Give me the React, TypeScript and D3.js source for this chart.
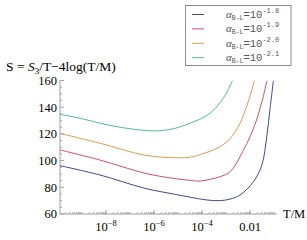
import React from "react";
import * as d3 from "d3";

const W = 307, H = 240;

// log10(T/M) samples and S values for each alpha
const blueX = [-9.92, -8.25, -6.375, -5.2, -4.5, -3.8, -3.25, -2.83, -2.42, -1.86, -1.51, -1.30, -1.17, -1.03];
const blueY = [96.2, 89.2, 79.2, 75.0, 72.6, 70.5, 70.0, 71.2, 74.2, 84.2, 96.7, 119, 139, 160];
const redX = [-9.92, -8.25, -6.375, -5.2, -4.5, -4.08, -3.25, -2.83, -2.42, -1.86, -1.51, -1.30];
const redY = [108, 100.4, 90.5, 86.7, 85.2, 84.7, 88.0, 91.7, 103, 124, 144, 160];
const orangeX = [-9.92, -8.25, -6.375, -5.2, -4.5, -3.67, -3.25, -2.83, -2.42, -2.08, -1.82];
const orangeY = [120.4, 113, 104, 102.2, 102.6, 107, 110.5, 116.5, 128, 144, 160];
const cyanX = [-9.92, -9.08, -8.25, -7.42, -6.375, -5.75, -5.12, -4.5, -3.875, -3.46, -3.04, -2.73];
const cyanY = [134.7, 131.7, 128, 125, 122.6, 122.4, 124.2, 128, 133, 139, 149, 160];

const seriesNames = ["-1.8", "-1.9", "-2.0", "-2.1"];
const seriesColors = ["#3f4b88", "#cc5363", "#dc9b52", "#52b9a3"];
const seriesXs = [blueX, redX, orangeX, cyanX];
const seriesYs = [blueY, redY, orangeY, cyanY];

const yTicks = [60, 80, 100, 120, 140, 160];
const xMajorExp = [-8, -6, -4, -2];
const xMajorLabels = [["10", "−8"], ["10", "−6"], ["10", "−4"], ["0.01", ""]];

export default function App() {
  const x = d3.scaleLog().domain([Math.pow(10, -9.92), Math.pow(10, -0.88)]).range([60, 277]);
  const y = d3.scaleLinear().domain([60, 160]).range([214, 80.5]);
  const line = d3
    .line<[number, number]>()
    .x((d) => x(Math.pow(10, d[0])))
    .y((d) => y(d[1]))
    .curve(d3.curveCatmullRom.alpha(0.5));

  const minorY = d3.range(60, 161, 5).filter((v) => v % 20 !== 0);
  const xMinor: number[] = [];
  for (let e = -10; e <= -1; e++) {
    for (let m = 1; m <= 9; m++) {
      const v = m * Math.pow(10, e);
      if (v >= x.domain()[0] && v <= x.domain()[1]) xMinor.push(v);
    }
  }

  const axisColor = "#a0a0a0";
  const serif = "'Liberation Serif', 'DejaVu Serif', serif";
  const mono = "'Liberation Mono', 'DejaVu Sans Mono', monospace";

  return (
    <svg width={W} height={H} style={{ display: "block", position: "absolute", left: 0, top: 0, background: "#fff" }}>
      <defs>
        <clipPath id="plotclip">
          <rect x={60} y={80.5} width={220} height={134} />
        </clipPath>
      </defs>
      {/* title */}
      <text x={6} y={71} fontFamily={serif} fontSize={13.5} fill="#000">
        S = <tspan fontStyle="italic">S</tspan>
        <tspan fontSize={9} dy={3}>3</tspan>
        <tspan dy={-3}>/T−4log(T/M)</tspan>
      </text>

      {/* y axis */}
      <line x1={60} x2={60} y1={80} y2={214} stroke={axisColor} strokeWidth={1} />
      {yTicks.map((t) => (
        <g key={"yt" + t}>
          <line x1={60} x2={64} y1={y(t)} y2={y(t)} stroke={axisColor} />
          <text x={57} y={y(t)} dy="0.35em" textAnchor="end" fontFamily={serif} fontSize={12.5} fill="#000">
            {t}
          </text>
        </g>
      ))}
      {minorY.map((t) => (
        <line key={"ym" + t} x1={60} x2={62} y1={y(t)} y2={y(t)} stroke={axisColor} />
      ))}

      {/* x axis */}
      <line x1={60} x2={277} y1={214} y2={214} stroke={axisColor} strokeWidth={1.2} />
      {xMinor.map((v, i) => (
        <line key={"xm" + i} x1={x(v)} x2={x(v)} y1={214} y2={212} stroke={axisColor} strokeWidth={0.8} />
      ))}
      {xMajorExp.map((e, i) => (
        <g key={"xt" + e}>
          <line x1={x(Math.pow(10, e))} x2={x(Math.pow(10, e))} y1={214} y2={210} stroke={axisColor} />
          <text x={x(Math.pow(10, e))} y={231} textAnchor="middle" fontFamily={serif} fontSize={12.5} fill="#000">
            {xMajorLabels[i][0]}
            {xMajorLabels[i][1] && (
              <tspan fontSize={8.5} dy={-5}>{xMajorLabels[i][1]}</tspan>
            )}
          </text>
        </g>
      ))}
      <text x={283} y={218} fontFamily={serif} fontSize={12.5} fill="#000">T/M</text>

      {/* curves */}
      <g clipPath="url(#plotclip)">
        {seriesXs.map((xs, i) => (
          <path
            key={"s" + i}
            d={line(xs.map((v, j) => [v, seriesYs[i][j]] as [number, number])) || ""}
            fill="none"
            stroke={seriesColors[i]}
            strokeWidth={1}
          />
        ))}
      </g>

      {/* legend */}
      <rect x={185.5} y={5.5} width={105.5} height={60} fill="#fff" stroke="#8c8c8c" strokeWidth={1} />
      {seriesNames.map((n, i) => {
        const cy = 14.5 + i * 14.4;
        return (
          <g key={"lg" + i}>
            <line x1={192} x2={204} y1={cy} y2={cy} stroke={seriesColors[i]} strokeWidth={1} />
            <text x={226} y={cy + 3.5} fontFamily={mono} fontSize={10.5} fill="#555">
              <tspan fontFamily={serif} fontStyle="italic" fontSize={11}>α</tspan>
              <tspan fontSize={6.5} dy={2}>B-L</tspan>
              <tspan dy={-2}>=10</tspan>
              <tspan fontSize={7} dy={-5}>{n}</tspan>
            </text>
          </g>
        );
      })}
    </svg>
  );
}
